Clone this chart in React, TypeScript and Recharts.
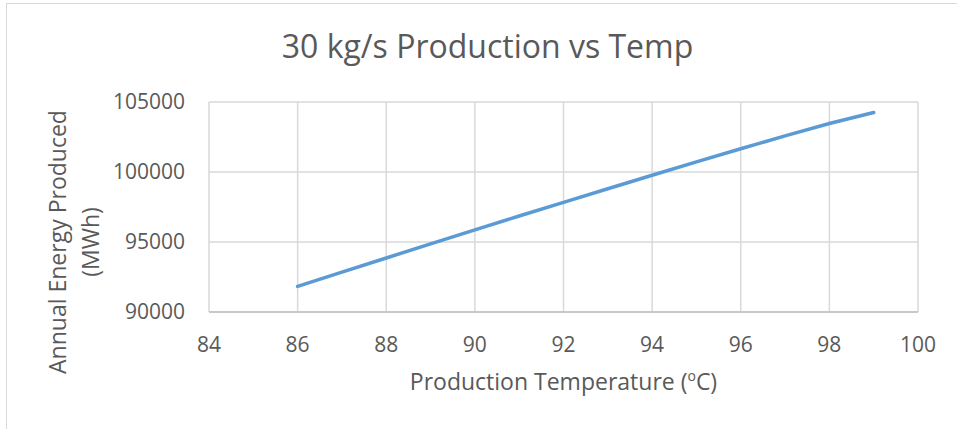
import { LineChart, Line, XAxis, YAxis, CartesianGrid, Label } from 'recharts';

const temps = [86, 87, 88, 89, 90, 91, 92, 93, 94, 95, 96, 97, 98, 99];
const energy = [
  91830, 92850, 93860, 94865, 95865, 96855, 97835, 98805, 99770, 100725, 101660, 102580,
  103460, 104250,
];
const xTicks = [84, 86, 88, 90, 92, 94, 96, 98, 100];
const yTicks = [90000, 95000, 100000, 105000];

const FONT = '"Open Sans", sans-serif';
const TEXT = '#595959';

const chartData = temps.map((t, i) => ({ temp: t, energy: energy[i] }));

function YTitle({ viewBox }: any) {
  const cy = viewBox.y + viewBox.height / 2 + 35;
  return (
    <g>
      <text
        x={57}
        y={cy}
        transform={`rotate(-90, 57, ${cy})`}
        textAnchor="middle"
        dominantBaseline="central"
        fill={TEXT}
        fontSize={23}
        fontFamily={FONT}
      >
        Annual Energy Produced
      </text>
      <text
        x={90}
        y={cy}
        transform={`rotate(-90, 90, ${cy})`}
        textAnchor="middle"
        dominantBaseline="central"
        fill={TEXT}
        fontSize={23}
        fontFamily={FONT}
      >
        (MWh)
      </text>
    </g>
  );
}

function XTitle({ viewBox }: any) {
  const cx = viewBox.x + viewBox.width / 2;
  return (
    <text x={cx} y={390} textAnchor="middle" fill={TEXT} fontSize={23} fontFamily={FONT}>
      Production Temperature (
      <tspan fontSize={14} dy={-9}>
        o
      </tspan>
      <tspan dy={9}>C)</tspan>
    </text>
  );
}

export default function App() {
  return (
    <div
      style={{
        position: 'absolute',
        left: 0,
        top: 0,
        width: 957,
        height: 429,
        overflow: 'hidden',
        background: '#fff',
        fontFamily: FONT,
      }}
    >
      <div
        style={{
          position: 'absolute',
          left: 6,
          top: 3,
          width: 1000,
          height: 500,
          border: '1px solid #d9d9d9',
        }}
      />
      <div
        style={{
          position: 'absolute',
          left: 0,
          top: 26,
          width: 975,
          textAlign: 'center',
          fontSize: 32,
          color: TEXT,
          lineHeight: '40px',
        }}
      >
        30 kg/s Production vs Temp
      </div>
      <div style={{ position: 'absolute', left: 0, top: 0 }}>
        <LineChart
          width={957}
          height={429}
          data={chartData}
          margin={{ top: 102, right: 39, bottom: 0, left: 0 }}
        >
          <CartesianGrid stroke="#d9d9d9" strokeWidth={1.5} />
          <XAxis
            dataKey="temp"
            type="number"
            domain={[84, 100]}
            ticks={xTicks}
            tickLine={false}
            axisLine={{ stroke: '#bfbfbf', strokeWidth: 1.5 }}
            tickMargin={19}
            height={117}
            tick={{ fill: TEXT, fontSize: 21, fontFamily: FONT }}
            interval={0}
          >
            <Label content={<XTitle />} />
          </XAxis>
          <YAxis
            type="number"
            domain={[90000, 105000]}
            ticks={yTicks}
            tickLine={false}
            axisLine={false}
            tickMargin={18}
            width={209}
            tick={{ fill: TEXT, fontSize: 21, fontFamily: FONT }}
            interval={0}
          >
            <Label content={<YTitle />} />
          </YAxis>
          <Line
            type="linear"
            dataKey="energy"
            stroke="#5b9bd5"
            strokeWidth={3.5}
            strokeLinecap="round"
            dot={false}
            activeDot={false}
            isAnimationActive={false}
          />
        </LineChart>
      </div>
    </div>
  );
}
